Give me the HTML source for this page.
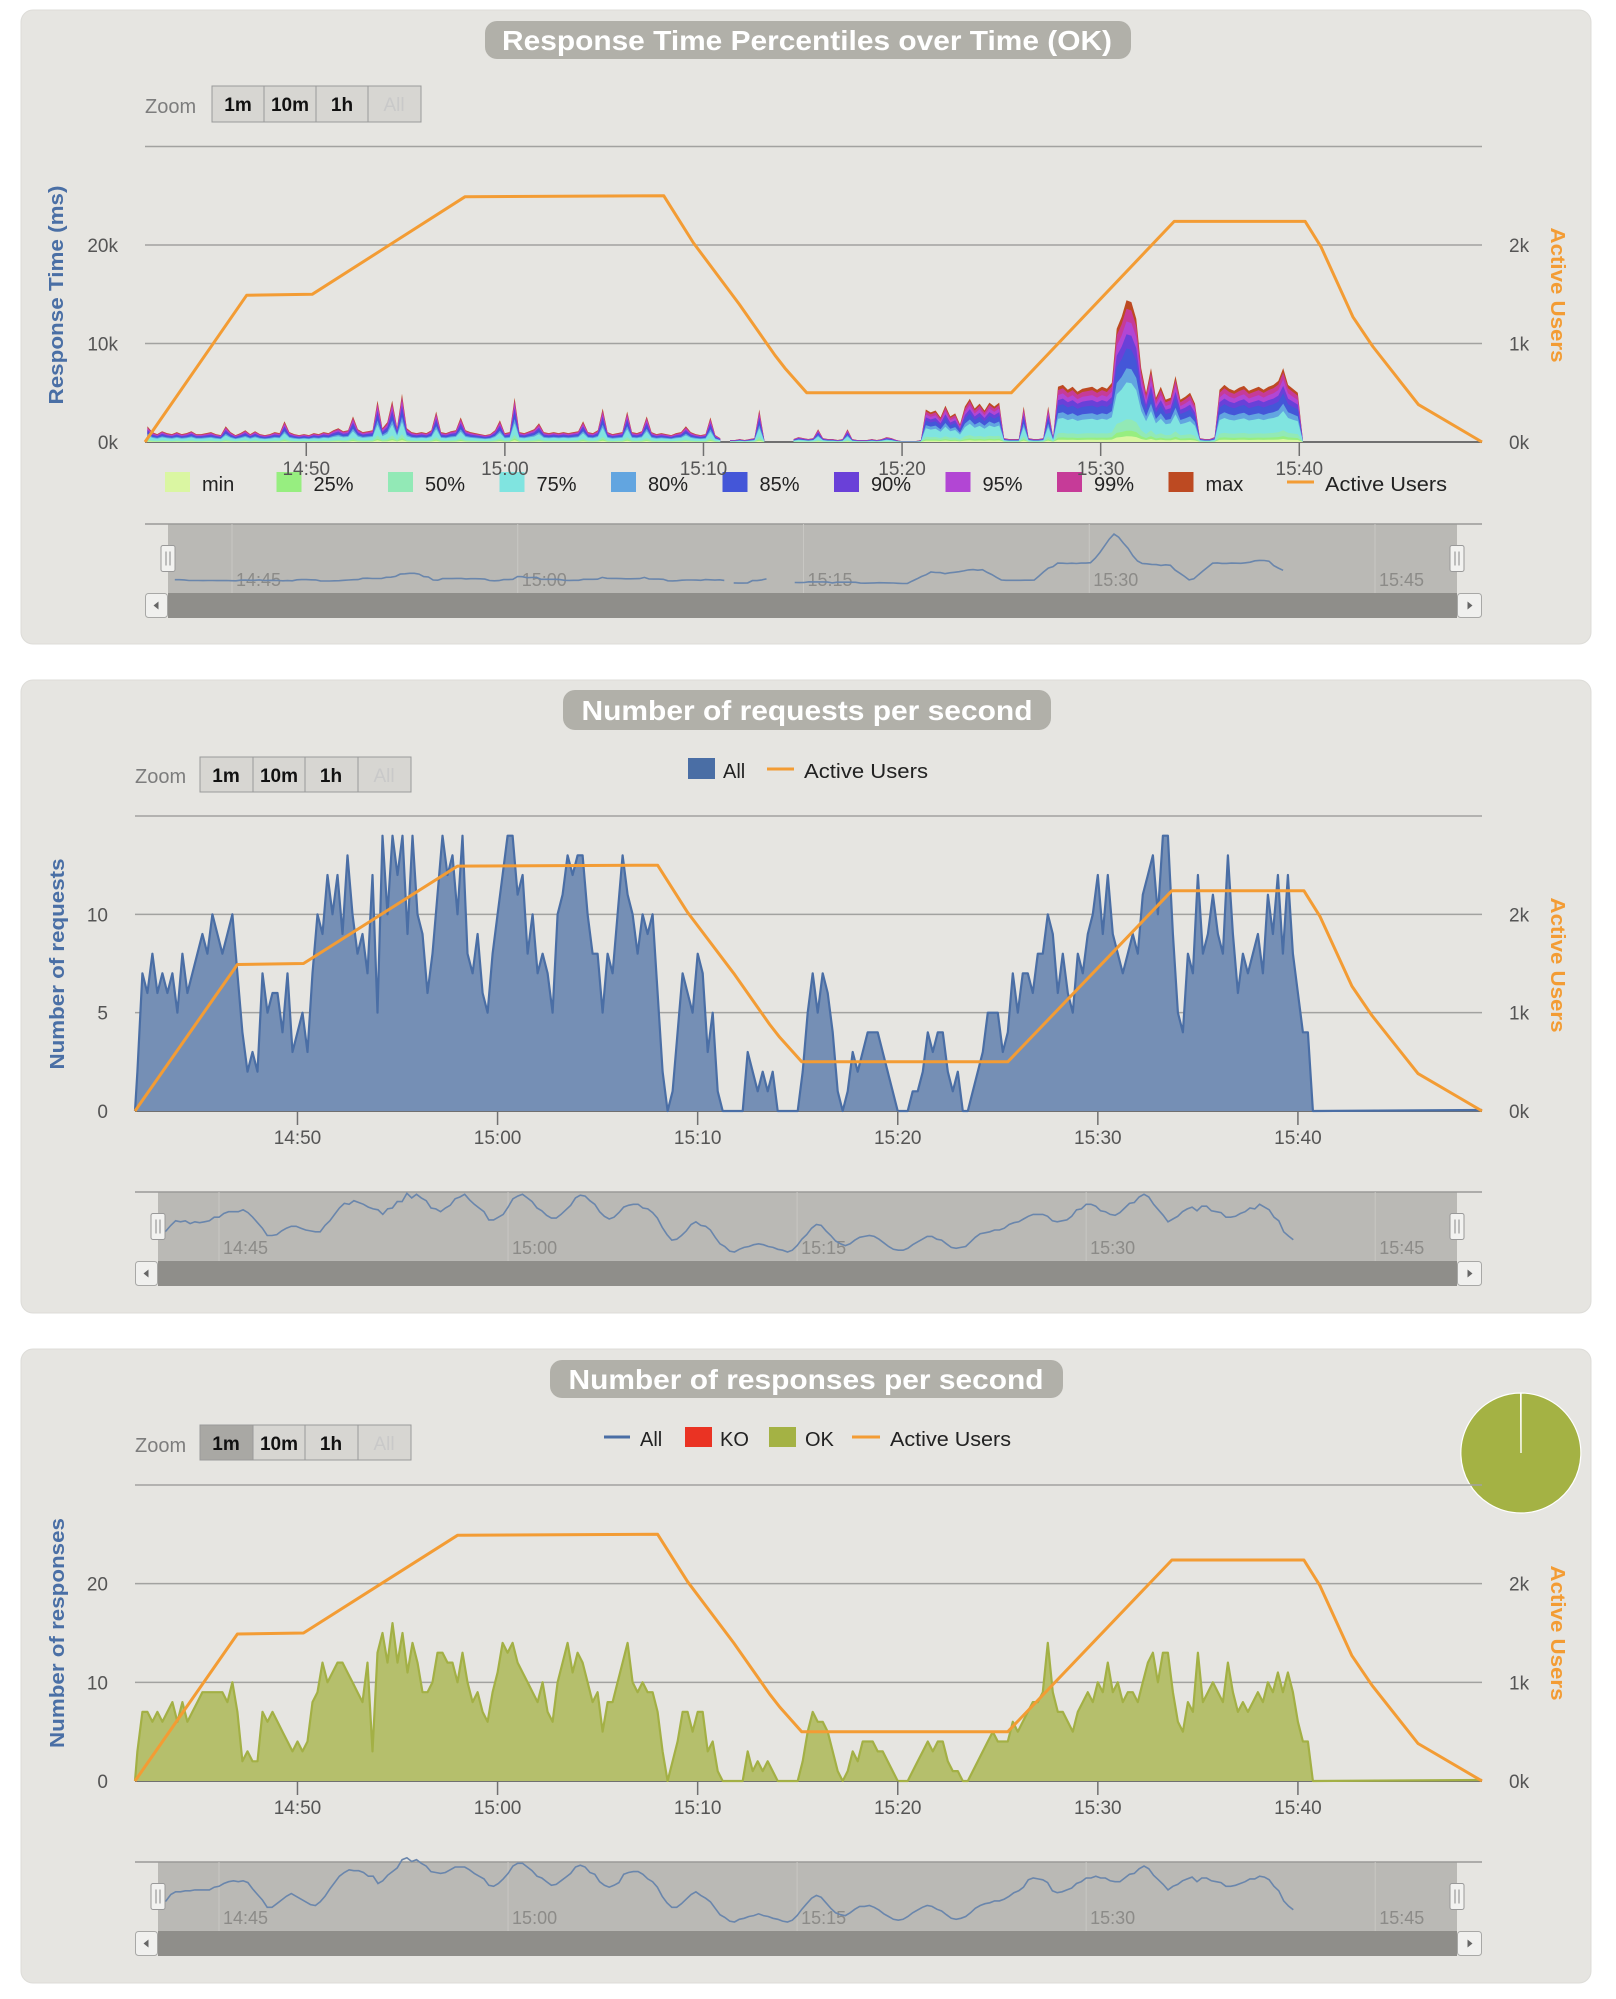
<!DOCTYPE html>
<html><head><meta charset="utf-8"><title>Gatling charts</title>
<style>
html,body{margin:0;padding:0;background:#fff;}
svg{display:block;font-family:"Liberation Sans",Arial,sans-serif;}
</style></head>
<body>
<svg id="chart" width="1616" height="1999" viewBox="0 0 1616 1999" xmlns="http://www.w3.org/2000/svg">
  <!-- Panel 1 -->
  <rect x="21" y="10" width="1570" height="634" rx="12" fill="#e6e5e1" stroke="#dddcd8"/>
  <rect x="485" y="21" width="646" height="38" rx="12" fill="#b1b0a9"/>
  <text x="807" y="50" text-anchor="middle" font-size="28" font-weight="bold" fill="#fff" textLength="610" lengthAdjust="spacingAndGlyphs">Response Time Percentiles over Time (OK)</text>
  <text x="145" y="113" font-size="20" fill="#7d7d7d">Zoom</text>
  <g>
    <rect x="212" y="86" width="209" height="36" fill="#d7d6d2" stroke="#9a9a9a"/>
    <line x1="264" y1="86" x2="264" y2="122" stroke="#9a9a9a"/>
    <line x1="316" y1="86" x2="316" y2="122" stroke="#9a9a9a"/>
    <line x1="368" y1="86" x2="368" y2="122" stroke="#9a9a9a"/>
    <text x="238" y="111" text-anchor="middle" font-size="19" font-weight="bold" fill="#111">1m</text>
    <text x="290" y="111" text-anchor="middle" font-size="19" font-weight="bold" fill="#111">10m</text>
    <text x="342" y="111" text-anchor="middle" font-size="19" font-weight="bold" fill="#111">1h</text>
    <text x="394" y="111" text-anchor="middle" font-size="19" fill="#c9c9c9">All</text>
  </g>
  <text transform="translate(63,295) rotate(-90)" text-anchor="middle" font-size="20" font-weight="bold" fill="#4a6fa5" textLength="219" lengthAdjust="spacingAndGlyphs">Response Time (ms)</text>
  <text transform="translate(1551,295) rotate(90)" text-anchor="middle" font-size="20" font-weight="bold" fill="#f39c34" textLength="135" lengthAdjust="spacingAndGlyphs">Active Users</text>
  <g id="legend1"></g>

  <!-- Panel 2 -->
  <rect x="21" y="680" width="1570" height="633" rx="12" fill="#e6e5e1" stroke="#dddcd8"/>
  <rect x="563" y="690" width="488" height="40" rx="12" fill="#b1b0a9"/>
  <text x="807" y="720" text-anchor="middle" font-size="28" font-weight="bold" fill="#fff" textLength="451" lengthAdjust="spacingAndGlyphs">Number of requests per second</text>
  <text x="135" y="783" font-size="20" fill="#7d7d7d">Zoom</text>
  <g>
    <rect x="200" y="757" width="211" height="35" fill="#d7d6d2" stroke="#9a9a9a"/>
    <line x1="253" y1="757" x2="253" y2="792" stroke="#9a9a9a"/>
    <line x1="305" y1="757" x2="305" y2="792" stroke="#9a9a9a"/>
    <line x1="358" y1="757" x2="358" y2="792" stroke="#9a9a9a"/>
    <text x="226" y="782" text-anchor="middle" font-size="19" font-weight="bold" fill="#111">1m</text>
    <text x="279" y="782" text-anchor="middle" font-size="19" font-weight="bold" fill="#111">10m</text>
    <text x="331" y="782" text-anchor="middle" font-size="19" font-weight="bold" fill="#111">1h</text>
    <text x="384" y="782" text-anchor="middle" font-size="19" fill="#c9c9c9">All</text>
  </g>
  <rect x="688" y="758" width="27" height="21" fill="#4a6ea5"/>
  <text x="723" y="778" font-size="20" fill="#222">All</text>
  <line x1="767" y1="769" x2="794" y2="769" stroke="#f39c34" stroke-width="3"/>
  <text x="804" y="778" font-size="20" fill="#222" textLength="124" lengthAdjust="spacingAndGlyphs">Active Users</text>
  <text transform="translate(64,964) rotate(-90)" text-anchor="middle" font-size="20" font-weight="bold" fill="#4a6fa5" textLength="211" lengthAdjust="spacingAndGlyphs">Number of requests</text>
  <text transform="translate(1551,965) rotate(90)" text-anchor="middle" font-size="20" font-weight="bold" fill="#f39c34" textLength="135" lengthAdjust="spacingAndGlyphs">Active Users</text>

  <!-- Panel 3 -->
  <rect x="21" y="1349" width="1570" height="634" rx="12" fill="#e6e5e1" stroke="#dddcd8"/>
  <rect x="550" y="1360" width="513" height="38" rx="12" fill="#b1b0a9"/>
  <text x="806" y="1389" text-anchor="middle" font-size="28" font-weight="bold" fill="#fff" textLength="475" lengthAdjust="spacingAndGlyphs">Number of responses per second</text>
  <text x="135" y="1452" font-size="20" fill="#7d7d7d">Zoom</text>
  <g>
    <rect x="200" y="1425" width="211" height="35" fill="#d7d6d2" stroke="#9a9a9a"/>
    <rect x="200" y="1425" width="53" height="35" fill="#a9a8a4" stroke="#9a9a9a"/>
    <line x1="305" y1="1425" x2="305" y2="1460" stroke="#9a9a9a"/>
    <line x1="358" y1="1425" x2="358" y2="1460" stroke="#9a9a9a"/>
    <text x="226" y="1450" text-anchor="middle" font-size="19" font-weight="bold" fill="#111">1m</text>
    <text x="279" y="1450" text-anchor="middle" font-size="19" font-weight="bold" fill="#111">10m</text>
    <text x="331" y="1450" text-anchor="middle" font-size="19" font-weight="bold" fill="#111">1h</text>
    <text x="384" y="1450" text-anchor="middle" font-size="19" fill="#c9c9c9">All</text>
  </g>
  <line x1="604" y1="1437" x2="630" y2="1437" stroke="#4a6ea5" stroke-width="3"/>
  <text x="640" y="1446" font-size="20" fill="#222">All</text>
  <rect x="685" y="1427" width="27" height="20" fill="#ea3323"/>
  <text x="720" y="1446" font-size="20" fill="#222">KO</text>
  <rect x="769" y="1427" width="27" height="20" fill="#a4b244"/>
  <text x="805" y="1446" font-size="20" fill="#222">OK</text>
  <line x1="852" y1="1437" x2="880" y2="1437" stroke="#f39c34" stroke-width="3"/>
  <text x="890" y="1446" font-size="20" fill="#222" textLength="121" lengthAdjust="spacingAndGlyphs">Active Users</text>
  <text transform="translate(64,1633) rotate(-90)" text-anchor="middle" font-size="20" font-weight="bold" fill="#4a6fa5" textLength="230" lengthAdjust="spacingAndGlyphs">Number of responses</text>
  <text transform="translate(1551,1633) rotate(90)" text-anchor="middle" font-size="20" font-weight="bold" fill="#f39c34" textLength="135" lengthAdjust="spacingAndGlyphs">Active Users</text>
  <g id="pie"></g>
</svg>
<script>
// ===== data (minutes after 14:40) =====
const xTickMinutes = [10, 20, 30, 40, 50, 60];
const xTickLabels = ['14:50', '15:00', '15:10', '15:20', '15:30', '15:40'];
const navTickMinutes = [5, 20, 35, 50, 65];
const navTickLabels = ['14:45', '15:00', '15:15', '15:30', '15:45'];
const rtTickValues = [0, 10, 20, 30];
const rtTickLabels = ['0k', '10k', '20k', ''];
const reqTickValues = [0, 5, 10, 15];
const reqTickLabels = ['0', '5', '10', ''];
const respTickValues = [0, 10, 20, 30];
const respTickLabels = ['0', '10', '20', ''];
const usersTickValues = [0, 1000, 2000];
const usersTickLabels = ['0k', '1k', '2k'];
const usersMinutes = [1.88, 7.0, 10.3, 18.0, 28.0, 29.5, 31.8, 33.6, 34.1, 35.2, 45.5, 53.7, 60.3, 61.1, 62.7, 63.7, 66.0, 69.2];
const usersValues = [0, 1490, 1500, 2490, 2500, 2020, 1400, 880, 750, 500, 500, 2240, 2240, 1980, 1270, 970, 380, 0];
const percentileNames = ['max', '99%', '95%', '90%', '85%', '80%', '75%', '50%', '25%', 'min'];
const percentileShares = [1.0, 0.94, 0.85, 0.76, 0.66, 0.52, 0.42, 0.16, 0.08, 0.04];
const rtStartMinute = 2.0;
const rtStepMinutes = 0.2465;
// max response time (k ms)
const rtMax = [
 1.6,1.0,0.8,1.1,0.9,0.8,1.0,0.8,
 0.9,1.1,0.8,0.8,0.9,1.0,0.8,0.7,
 1.6,1.0,0.7,0.9,1.2,0.8,1.1,0.8,
 0.7,0.8,1.0,0.9,2.1,1.0,0.8,0.7,
 0.8,0.7,0.9,0.8,1.0,0.9,1.2,1.4,
 1.1,1.2,2.6,1.3,1.0,1.1,1.2,4.2,
 1.4,2.0,4.2,1.5,4.9,1.4,1.0,0.9,
 1.0,0.9,1.2,3.1,1.0,0.9,1.1,1.2,
 2.5,1.2,1.0,0.9,0.8,0.7,0.8,1.2,
 2.2,0.9,1.0,4.5,1.0,0.9,1.1,1.3,
 1.9,1.0,0.9,1.0,0.9,1.0,0.9,1.0,
 1.1,2.1,1.0,0.9,1.2,3.4,1.0,0.8,
 0.9,1.0,3.1,1.0,0.9,1.1,2.6,1.0,
 0.8,0.9,0.8,0.7,0.9,1.0,1.6,1.0,
 0.8,0.7,0.8,2.5,0.7,0.4,null,0.2,
 0.2,0.3,0.2,0.3,0.4,3.3,0.3,null,
 null,null,null,null,0.3,0.5,0.4,0.3,
 0.4,1.3,0.4,0.3,0.3,0.2,0.3,1.3,
 0.3,0.2,0.2,0.2,0.3,0.2,0.3,0.5,
 0.4,0.2,0.1,0.1,0.1,0.1,0.2,3.3,
 3.0,3.2,2.5,3.7,2.6,2.9,1.8,3.6,
 4.4,3.4,3.9,3.2,4.0,3.6,4.0,0.4,
 0.3,0.3,0.3,3.6,0.4,0.3,0.3,0.4,
 3.6,0.5,5.6,5.8,5.3,5.6,5.1,5.4,
 5.5,5.6,5.3,5.6,5.4,6.0,11.5,12.7,
 14.4,14.2,12.5,7.5,5.0,7.5,4.5,5.6,
 4.3,4.5,6.7,4.3,4.6,5.0,3.9,0.4,
 0.3,0.3,0.5,5.3,5.8,5.4,5.2,5.5,
 5.7,5.2,5.4,5.6,5.3,5.6,5.8,6.2,
 7.5,5.8,5.4,5.0,0.4];
const countStartMinute = 1.75;
const countStepMinutes = 0.25;
const requestsAll = [
 0,2,7,6,8,6,7,6, 7,5,8,6,7,8,9,8, 10,9,8,9,10,7,4,2, 3,2,7,5,6,6,4,7,
 3,4,5,3,7,10,9,12, 10,12,9,13,10,8,9,7, 12,5,14,10,14,12,14,9, 14,10,9,6,8,11,14,12,
 13,10,14,8,7,9,6,5, 8,10,12,14,14,11,12,8, 10,7,8,7,5,10,11,13, 12,13,13,10,8,8,5,8,
 7,10,13,11,10,8,10,9, 10,6,2,0,1,4,7,6, 5,8,7,3,5,1,0,0, 0,0,0,3,2,1,2,1,
 2,0,0,0,0,0,2,5, 7,5,7,6,4,1,0,1, 3,2,3,4,4,4,3,2, 1,0,0,0,1,1,2,4,
 3,4,4,2,1,2,0,0, 1,2,3,5,5,5,3,4, 7,5,7,7,6,8,8,10, 9,6,8,6,5,8,7,9,
 10,12,9,12,9,8,7,8, 9,8,11,12,13,10,14,14, 9,5,4,8,7,12,8,9, 11,9,8,13,9,6,8,7,
 8,9,7,11,9,12,8,12, 8,6,4,4,0];
const responsesOK = [
 0,3,7,7,6,7,6,7, 8,6,8,6,7,8,9,9, 9,9,9,8,10,7,2,3, 2,2,7,6,7,6,5,4,
 3,4,3,4,8,9,12,10, 11,12,12,11,10,9,8,12, 3,13,15,12,16,12,15,11, 14,12,9,9,10,13,13,12,
 12,10,13,10,8,9,7,6, 9,11,14,13,14,12,11,10, 9,8,10,7,6,10,12,14, 11,13,12,10,8,9,5,8,
 8,10,12,14,10,9,10,9, 9,7,3,0,2,4,7,7, 5,7,7,3,4,1,0,0, 0,0,0,3,1,2,1,2,
 1,0,0,0,0,0,2,5, 7,6,6,5,3,1,0,1, 3,2,4,4,4,3,3,2, 1,0,0,0,1,2,3,4,
 3,4,4,2,1,1,0,0, 1,2,3,4,5,4,4,4, 6,5,6,7,8,8,9,14, 9,7,7,6,5,7,8,9,
 8,10,9,12,9,10,8,9, 9,8,10,12,13,10,13,13, 9,6,5,8,7,13,8,9, 10,9,8,12,9,7,8,7,
 8,9,8,10,9,11,9,11, 9,6,4,4,0];
const pieLabels = ['OK', 'KO'];
const pieValues = [9990, 8];

// ===== layout / style =====
const T0 = 1.88, T1 = 69.2;
const percentileColors = ['#bd4a22','#c63b98','#b246d4','#6a40d8','#4456d8','#62a5e0','#80e4e0','#92e9b6','#97ee80','#daf6a2'];
const legendOrder = ['min','25%','50%','75%','80%','85%','90%','95%','99%','max'];
const legendColors = ['#daf6a2','#97ee80','#92e9b6','#80e4e0','#62a5e0','#4456d8','#6a40d8','#b246d4','#c63b98','#bd4a22'];
const panels = [
 {left:145,right:1482,yTop:146.5,y0:442,vmax:30,navTop:524,navBot:593,scrollBot:618,nav5:232,navPpm:19.05,hL:168,hR:1457},
 {left:135,right:1482,yTop:816,y0:1111,vmax:15,navTop:1192,navBot:1261,scrollBot:1286,nav5:219,navPpm:19.27,hL:158,hR:1457},
 {left:135,right:1482,yTop:1485,y0:1781,vmax:30,navTop:1862,navBot:1931,scrollBot:1956,nav5:219,navPpm:19.27,hL:158,hR:1457}
];
const NS = 'http://www.w3.org/2000/svg';
const svg = document.getElementById('chart');
function mk(tag, attrs, parent) {
  const e = document.createElementNS(NS, tag);
  for (const k in attrs) e.setAttribute(k, attrs[k]);
  (parent || svg).appendChild(e);
  return e;
}
function xAt(p, t) { return p.left + (t - T0) * (p.right - p.left) / (T1 - T0); }
function yAt(p, v) { return p.y0 - v / p.vmax * (p.y0 - p.yTop); }
function yUsers(p, u) { return p.y0 - u / 3000 * (p.y0 - p.yTop); }
function navX(p, t) { return p.nav5 + (t - 5) * p.navPpm; }
function f(n) { return n.toFixed(1); }

// ===== legend panel 1 =====
const lg = document.getElementById('legend1');
legendOrder.forEach((name, i) => {
  const x = 165 + i * 111.5;
  const sw = mk('rect', {x: x, y: 472, width: 25, height: 20, fill: legendColors[i]}, lg);
  
  
  const tx = mk('text', {x: x + 37, y: 491, 'font-size': 20, fill: '#222'}, lg);
  tx.textContent = name;
  
  
});
const auSw = mk('line', {x1: 1287, y1: 482, x2: 1314, y2: 482, stroke: '#f39c34', 'stroke-width': 3}, lg);


const auTx = mk('text', {x: 1325, y: 491, 'font-size': 20, fill: '#222', textLength: 122, lengthAdjust: 'spacingAndGlyphs'}, lg);
auTx.textContent = 'Active Users';



// ===== axes & grid =====
function drawAxes(p, vals, labels) {
  vals.forEach((v, i) => {
    const y = yAt(p, v);
    const gl = mk('line', {x1: p.left, y1: y, x2: p.right, y2: y, stroke: v === 0 ? '#707070' : '#a2a2a0', 'stroke-width': v === 0 ? 2 : 1.5});
    
    
    if (labels[i]) {
      const t = mk('text', {x: p.left - 27, y: y + 7, 'text-anchor': 'end', 'font-size': 19, fill: '#555'});
      t.textContent = labels[i];
      
      
    }
  });
  usersTickValues.forEach((u, i) => {
    const t = mk('text', {x: 1509, y: yUsers(p, u) + 7, 'font-size': 19, fill: '#555'});
    t.textContent = usersTickLabels[i];
    
    
  });
}
function drawXTicks(p) {
  xTickMinutes.forEach((m, i) => {
    const x = xAt(p, m);
    const tk = mk('line', {x1: x, y1: p.y0, x2: x, y2: p.y0 + 14, stroke: '#707070', 'stroke-width': 1.5});
    
    
    const t = mk('text', {x: x, y: p.y0 + 33, 'text-anchor': 'middle', 'font-size': 19, fill: '#555'});
    t.textContent = xTickLabels[i];
    
    
  });
}
function drawUsers(p) {
  const pts = usersMinutes.map((m, i) => f(xAt(p, m)) + ',' + f(yUsers(p, usersValues[i]))).join(' ');
  const l = mk('polyline', {points: pts, fill: 'none', stroke: '#f39c34', 'stroke-width': 3, 'stroke-linejoin': 'round'});
  
  
}
function drawNavigator(p, data, start, step, vmaxNav, name) {
  const bg = mk('rect', {x: p.hL, y: p.navTop, width: p.hR - p.hL, height: p.navBot - p.navTop, fill: '#bab9b5'});
  
  
  const top = mk('line', {x1: p.left, y1: p.navTop, x2: p.right, y2: p.navTop, stroke: '#9a9a98', 'stroke-width': 1.5});
  
  
  navTickMinutes.forEach((m, i) => {
    const x = navX(p, m);
    const gl = mk('line', {x1: x, y1: p.navTop, x2: x, y2: p.navBot, stroke: '#c8c7c3', 'stroke-width': 1});
    
    
    const t = mk('text', {x: x + 4, y: p.navBot - 7, 'font-size': 18, fill: '#8c8b88'});
    t.textContent = navTickLabels[i];
    
    
  });
  const base = p.navBot - 9, topY = p.navTop + 5;
  const segs = []; let cur = [];
  data.forEach((v, i) => {
    if (v === null) { if (cur.length) segs.push(cur); cur = []; return; }
    let s = 0, n = 0;
    for (let k = i - 2; k <= i + 2; k++) { if (k >= 0 && k < data.length && data[k] !== null) { s += data[k]; n++; } }
    const t = Math.max(start + i * step, T0);
    cur.push(f(navX(p, t)) + ',' + f(base - (s / n) / vmaxNav * (base - topY)));
  });
  if (cur.length) segs.push(cur);
  segs.forEach(sg => {
    const l = mk('polyline', {points: sg.join(' '), fill: 'none', stroke: '#6a86ac', 'stroke-width': 1.6});
    
    
  });
  const tr = mk('rect', {x: p.hL, y: p.navBot, width: p.hR - p.hL, height: p.scrollBot - p.navBot, fill: '#8f8e8a'});
  
  
  [[p.left, p.hL, 'left'], [p.hR, p.right, 'right']].forEach(b => {
    const r = mk('rect', {x: b[0] + 0.5, y: p.navBot + 0.5, width: b[1] - b[0] - 1, height: p.scrollBot - p.navBot - 1, rx: 3, fill: '#f0f0ee', stroke: '#a8a8a6'});
    
    
    const cx = (b[0] + b[1]) / 2, cy = (p.navBot + p.scrollBot) / 2;
    const pts = b[2] === 'left' ? `${cx+2},${cy-4} ${cx+2},${cy+4} ${cx-3},${cy}` : `${cx-2},${cy-4} ${cx-2},${cy+4} ${cx+3},${cy}`;
    const a = mk('polygon', {points: pts, fill: '#666'});
    
    
  });
  [p.hL, p.hR].forEach((hx, i) => {
    const cy = (p.navTop + p.navBot) / 2;
    const h = mk('rect', {x: hx - 7, y: cy - 13, width: 14, height: 26, rx: 2, fill: '#f2f2f0', stroke: '#999'});
    
    
    const g1 = mk('path', {d: `M${hx-2},${cy-7}V${cy+7}M${hx+2},${cy-7}V${cy+7}`, stroke: '#888', 'stroke-width': 1});
    
    
  });
}

// ===== Panel 1: percentiles =====
(function () {
  const p = panels[0];
  drawAxes(p, rtTickValues, rtTickLabels);
  percentileNames.forEach((name, li) => {
    const share = percentileShares[li];
    const segs = []; let cur = [];
    rtMax.forEach((v, i) => {
      if (v === null) { if (cur.length) segs.push(cur); cur = []; return; }
      cur.push([xAt(p, rtStartMinute + i * rtStepMinutes), yAt(p, v * share)]);
    });
    if (cur.length) segs.push(cur);
    segs.forEach(sg => {
      let d = `M${f(sg[0][0])},${p.y0}`;
      sg.forEach(q => { d += `L${f(q[0])},${f(q[1])}`; });
      d += `L${f(sg[sg.length - 1][0])},${p.y0}Z`;
      const a = mk('path', {d: d, fill: percentileColors[li]});
      
      
    });
  });
  drawUsers(p);
  drawXTicks(p);
  drawNavigator(p, rtMax, rtStartMinute, rtStepMinutes, 14.4, 'navigator-response-time-line');
})();

// ===== Panels 2 & 3: counts =====
function drawCounts(p, data, fill, stroke, name) {
  const pts = data.map((v, i) => [Math.max(xAt(p, countStartMinute + i * countStepMinutes), p.left), yAt(p, v)]);
  let d = `M${f(pts[0][0])},${p.y0}`;
  pts.forEach(q => { d += `L${f(q[0])},${f(q[1])}`; });
  d += `L${f(pts[pts.length - 1][0])},${p.y0}Z`;
  const a = mk('path', {d: d, fill: fill});
  
  
  const linePts = pts.map(q => f(q[0]) + ',' + f(q[1]));
  linePts.push(f(p.right) + ',' + f(p.y0 - 1));
  const l = mk('polyline', {points: linePts.join(' '), fill: 'none', stroke: stroke, 'stroke-width': 2.2, 'stroke-linejoin': 'round'});
  
  
}
(function () {
  const p = panels[1];
  drawAxes(p, reqTickValues, reqTickLabels);
  drawCounts(p, requestsAll, '#758fb5', '#4a6ea5', 'requests-all');
  drawUsers(p);
  drawXTicks(p);
  drawNavigator(p, requestsAll, countStartMinute, countStepMinutes, 12, 'navigator-requests-line');
})();
(function () {
  const p = panels[2];
  drawAxes(p, respTickValues, respTickLabels);
  drawCounts(p, responsesOK, '#b5bf6c', '#a3b045', 'responses-ok');
  drawUsers(p);
  drawXTicks(p);
  drawNavigator(p, responsesOK, countStartMinute, countStepMinutes, 12, 'navigator-responses-line');
  const pg = document.getElementById('pie');
  const cx = 1521, cy = 1453, r = 60;
  const total = pieValues.reduce((a, b) => a + b, 0);
  let ang = -Math.PI / 2;
  const pieColors = ['#a4b244', '#ea3323'];
  pieValues.forEach((v, i) => {
    const a2 = ang + v / total * Math.PI * 2;
    const large = (a2 - ang) > Math.PI ? 1 : 0;
    const d = `M${cx},${cy}L${f(cx + r * Math.cos(ang))},${f(cy + r * Math.sin(ang))}A${r},${r} 0 ${large} 1 ${f(cx + r * Math.cos(a2))},${f(cy + r * Math.sin(a2))}Z`;
    const s = mk('path', {d: d, fill: pieColors[i], stroke: '#fff', 'stroke-width': 1.2}, pg);
    
    
    ang = a2;
  });
})();
</script>
</body></html>
